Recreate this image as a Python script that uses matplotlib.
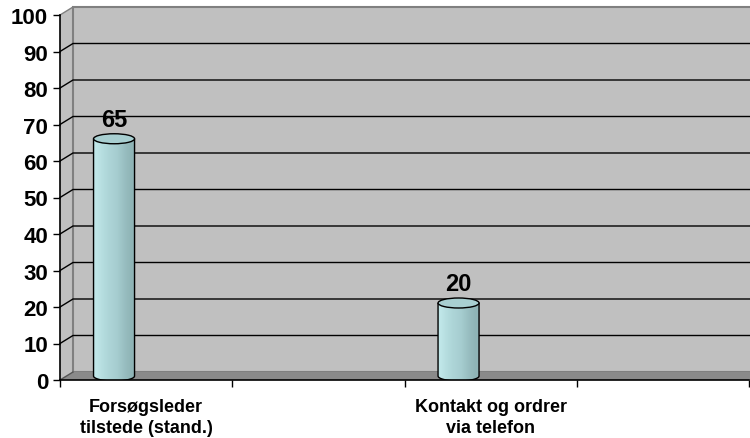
import matplotlib.pyplot as plt
import numpy as np
from matplotlib.patches import Polygon, Ellipse, PathPatch
from matplotlib.path import Path

categories = ["Forsøgsleder\ntilstede (stand.)", "", "Kontakt og ordrer\nvia telefon", ""]
values = [65, np.nan, 20, np.nan]
y_ticks = list(range(0, 101, 10))

plt.rcParams["font.family"] = ["Liberation Sans", "DejaVu Sans"]

fig = plt.figure(figsize=(7.5, 4.39), dpi=100)
ax = fig.add_axes([60 / 750, 58 / 439, 689 / 750, 365 / 439])
ax.set_xlim(0, 4)
ax.set_ylim(0, 100)
ax.patch.set_visible(False)

# 3d depth offset in data units (13 px right, 8 px up)
px_x = 4 / 689
px_y = 100 / 365
DX = 13 * px_x
DY = 8 * px_y

wall = "#c0c0c0"
edge = "#808080"

# side wall, back wall, floor
ax.add_patch(Polygon([(0, 0), (DX, DY), (DX, 100 + DY), (0, 100)], closed=True,
                     facecolor=wall, edgecolor="none", zorder=0, clip_on=False))
ax.add_patch(Polygon([(DX, DY), (4 + DX + 1, DY), (4 + DX + 1, 100 + DY), (DX, 100 + DY)],
                     closed=True, facecolor=wall, edgecolor=edge, lw=1.5, zorder=0, clip_on=False))
ax.add_patch(Polygon([(0, 0), (4.2, 0), (4.2 + DX, DY), (DX, DY)], closed=True,
                     facecolor="#8a8a8a", edgecolor="none", zorder=1, clip_on=False))
ax.plot([DX, DX], [DY, 100 + DY], color=edge, lw=1.2, zorder=1, clip_on=False)
ax.plot([0, DX], [0, DY], color="#555555", lw=1, zorder=1, clip_on=False)

for v in y_ticks[1:]:
    col = edge if v == 100 else "black"
    ax.plot([0, DX, 4.2 + DX], [v, v + DY, v + DY], color=col, lw=1.0, zorder=1,
            clip_on=False, solid_joinstyle="miter")

# cylinders
bw = 41 * px_x
eh = 10 * px_y
grad = np.array([[0.0, 0.25, 0.45, 0.6, 0.75, 0.9, 1.0]])
cmap = plt.matplotlib.colors.LinearSegmentedColormap.from_list(
    "cyl", ["#bfe6e8", "#b2dadc", "#a6cdd0", "#8fb4b6"])
for i, val in enumerate(values):
    if np.isnan(val):
        continue
    xc = i + 0.276 + DX / 2
    y0 = DY / 2
    y1 = val + DY / 2
    left = xc - bw / 2
    right = xc + bw / 2
    t = np.linspace(np.pi, 2 * np.pi, 40)
    bottom = np.column_stack([xc + bw / 2 * np.cos(t), y0 + eh / 2 * np.sin(t)])
    verts = np.vstack([[[left, y1]], bottom, [[right, y1]], [[left, y1]]])
    body = PathPatch(Path(verts), facecolor="none", edgecolor="black", lw=1, zorder=4)
    ax.add_patch(body)
    im = ax.imshow(grad, cmap=cmap, extent=[left, right, y0 - eh, y1], aspect="auto",
                   zorder=3, interpolation="bilinear")
    im.set_clip_path(body)
    ax.add_patch(Ellipse((xc, y1), bw, eh, facecolor="#a8cfd1", edgecolor="black",
                         lw=1, zorder=5))
    ax.text(xc, y1 + eh / 2 + 0.7, f"{val:.0f}", ha="center", va="bottom",
            fontsize=17, fontweight="bold", zorder=6)

ax.set_xlim(0, 4)
ax.set_ylim(0, 100)

for s in ["top", "right"]:
    ax.spines[s].set_visible(False)
for s in ["left", "bottom"]:
    ax.spines[s].set_color("black")
    ax.spines[s].set_linewidth(1.2)
    ax.spines[s].set_zorder(7)

ax.set_yticks(y_ticks)
ax.set_yticklabels([str(v) for v in y_ticks], fontsize=16, fontweight="bold")
ax.tick_params(axis="y", length=5, width=1, pad=3.5, colors="black")
ax.set_xticks(range(5))
ax.set_xticklabels([])
ax.tick_params(axis="x", which="major", length=5, width=1)
ax.set_xticks(np.arange(4) + 0.5, minor=True)
ax.set_xticklabels(categories, minor=True, fontsize=13, fontweight="bold", linespacing=1.3)
ax.tick_params(axis="x", which="minor", length=0, pad=13)

fig.savefig("out.png", dpi=100)
